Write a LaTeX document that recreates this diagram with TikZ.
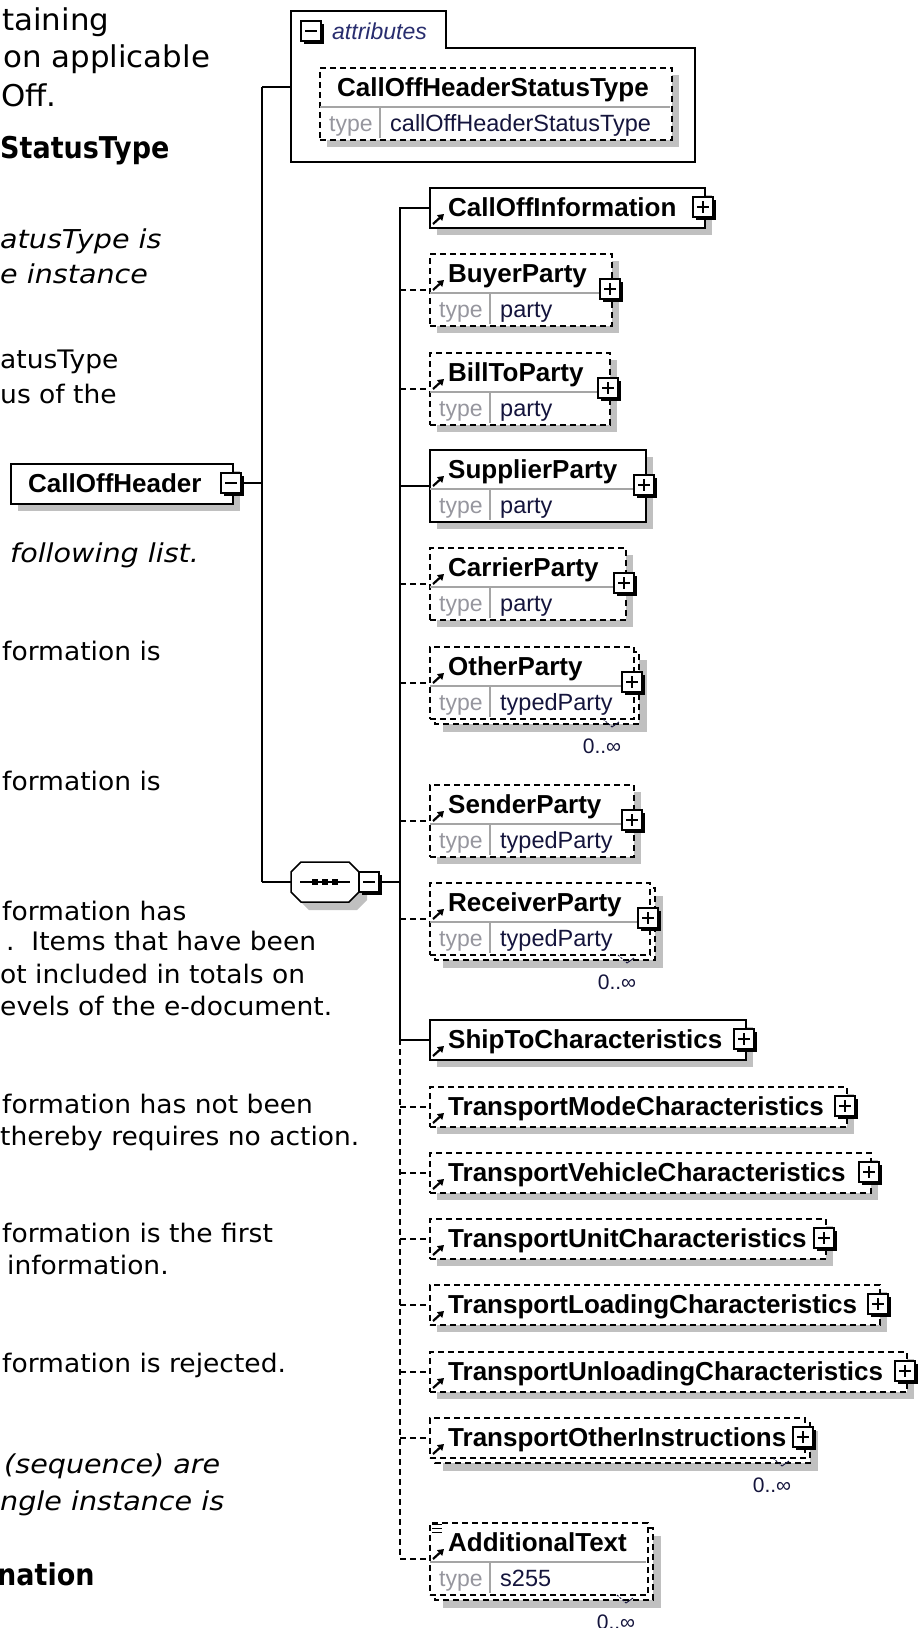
\documentclass[tikz,border=0pt]{standalone}
\usepackage{fontspec}
\setmainfont{Liberation Sans}
\newfontfamily\topfont{DejaVu Sans}[FakeStretch=1.03]
\newfontfamily\bodyfont{DejaVu Sans}[FakeStretch=1.04]
\newfontfamily\itfont{DejaVu Sans}[FakeStretch=1.1]
\newfontfamily\headfont{DejaVu Sans}[FakeStretch=0.9]
\usetikzlibrary{arrows.meta}
\definecolor{shgray}{RGB}{192,192,192}
\definecolor{divgray}{RGB}{165,165,165}
\definecolor{typegray}{RGB}{150,150,158}
\definecolor{navy}{RGB}{20,20,60}
\definecolor{attrblue}{RGB}{40,45,110}
\tikzset{
  conn/.style={line width=1.8pt, black},
  dconn/.style={conn, dash pattern=on 6pt off 4pt},
  sbox/.style={draw, line width=1.8pt, fill=white, inner sep=0pt},
  dbox/.style={sbox, dash pattern=on 6pt off 4pt},
  divl/.style={draw=divgray, line width=1.3pt},
  ename/.style={font=\fontsize{26}{30}\selectfont\bfseries, inner sep=0pt, text=black},
  tlab/.style={font=\fontsize{23}{26}\selectfont, inner sep=0pt, text=typegray},
  tval/.style={font=\fontsize{23.5}{26}\selectfont, inner sep=0pt, text=navy},
  pmbox/.style={draw, fill=white, line width=1.4pt, minimum size=20pt, inner sep=0pt},
  ltext/.style={anchor=base west, inner sep=0pt, text=black},
  topt/.style={ltext, font=\topfont\fontsize{30}{36}\selectfont},
  bodyt/.style={ltext, font=\bodyfont\fontsize{25.5}{30}\selectfont},
  itt/.style={ltext, font=\itfont\itshape\fontsize{26}{30}\selectfont},
  headt/.style={ltext, font=\headfont\bfseries\fontsize{30}{36}\selectfont},
}
% plus / minus boxes
\newcommand\pmsq[3]{%
  \fill (#2-8,#3-8) rectangle (#2+12,#3+12);
  \node[pmbox] (#1) at (#2-1,#3-1) {};}
\newcommand\plusb[3]{\pmsq{#1}{#2}{#3}%
  \draw[line width=1.4pt] (#2-7,#3-1) -- (#2+5,#3-1) (#2-1,#3-7) -- (#2-1,#3+5);}
\newcommand\minusb[3]{\pmsq{#1}{#2}{#3}%
  \draw[line width=1.4pt] (#2-7,#3-1) -- (#2+5,#3-1);}
% reference icon
\newcommand\ricon[1]{\draw[line width=2.2pt, -{Triangle[length=6pt,width=7.5pt]}] (433,#1-3) -- (444,#1-13);}
% shadows and back boxes
\newcommand\elshadow[4]{\fill[shgray] (429+#4,#1+#4) rectangle (#2+#4,#1+#3+#4);}
\newcommand\backbox[3]{\draw[dbox] (435,#1+6) rectangle (#2+6,#1+#3+6);}
% single-row element
\newcommand\elone[5]{%
  \pgfmathsetmacro\elw{#3-429}
  \node[#4, minimum width=\elw pt, minimum height=40pt, anchor=north west] (#1) at (429,#2) {};
  \node[ename, anchor=base west] (#1-n) at (448,#2+29) {#5};
  \ricon{#2+40}
  \plusb{#1-p}{#3}{#2+21}}
% element with type row
\newcommand\eltwo[6]{%
  \pgfmathsetmacro\elw{#3-429}
  \node[#4, minimum width=\elw pt, minimum height=72pt, anchor=north west] (#1) at (429,#2) {};
  \draw[divl] (430,#2+40) -- (#3-1,#2+40);
  \draw[divl] (490,#2+41) -- (490,#2+71);
  \node[ename, anchor=base west] (#1-n) at (448,#2+29) {#5};
  \node[tlab, anchor=base west] (#1-l) at (439,#2+64) {type};
  \node[tval, anchor=base west] (#1-v) at (500,#2+64) {#6};
  \ricon{#2+40}
  \plusb{#1-p}{#3}{#2+37}}
% occurrence label
\newcommand\occurs[3]{%
  \draw[line width=0.9pt, navy, dash pattern=on 2pt off 1.5pt] (#2+1,#3+1) -- (#2+10,#3+9);
  \draw[line width=0.9pt, navy] (#2+10,#3+9) -- (#2+17,#3+4);
  \node[font=\fontsize{21}{24}\selectfont, text=navy, anchor=base, inner sep=0pt] (#1-occ) at (#2,#3+35) {0..∞};}

\begin{document}
\begin{tikzpicture}[x=1pt,y=-1pt]
\useasboundingbox (0,0) rectangle (922,1628);
\clip (0,0) rectangle (922,1628);

% ---------------- left document text ----------------
\node[topt] (t1) at (2,30) {taining};
\node[topt] (t2) at (3,67) {on applicable};
\node[topt] (t3) at (1,106) {Off.};
\node[headt] (t4) at (0,158) {StatusType};
\node[itt] (t5) at (0,248) {atusType is};
\node[itt] (t6) at (0,283) {e instance};
\node[bodyt] (t7) at (0,368) {atusType};
\node[bodyt] (t8) at (0,403) {us of the};
\node[itt] (t9) at (10,562) {following list.};
\node[bodyt] (t10) at (2,660) {formation is};
\node[bodyt] (t11) at (2,790) {formation is};
\node[bodyt] (t12) at (2,920) {formation has};
\node[bodyt] (t13) at (6,950) {.\ \ Items that have been};
\node[bodyt] (t14) at (0,983) {ot included in totals on};
\node[bodyt] (t15) at (0,1015) {evels of the e-document.};
\node[bodyt] (t16) at (2,1113) {formation has not been};
\node[bodyt] (t17) at (0,1145) {thereby requires no action.};
\node[bodyt] (t18) at (2,1242) {formation is the first};
\node[bodyt] (t19) at (7,1274) {information.};
\node[bodyt] (t20) at (2,1372) {formation is rejected.};
\node[itt] (t21) at (4,1473) {(sequence) are};
\node[itt] (t22) at (0,1510) {ngle instance is};
\node[headt] (t23) at (-3,1585) {nation};

% ---------------- connectors ----------------
\coordinate (hbusT) at (262,87);
\coordinate (hbusB) at (262,882);
\coordinate (attrW) at (291,87);
\coordinate (busTop) at (400,207);
\coordinate (busMid) at (400,1039);
\coordinate (busBot) at (400,1558);
\node[minimum width=68pt, minimum height=40pt, inner sep=0pt] (seq) at (325,882) {};

\draw[conn] (hbusT) -- (hbusB);
\draw[conn] (hbusT) -- (attrW);
\draw[conn] (hbusB) -- (seq.west);
\draw[conn] (busTop) -- (busMid);
\draw[dconn] (busMid) -- (busBot);

% ---------------- attributes ----------------
\draw[conn, fill=white] (291,162) -- (291,11) -- (446,11) -- (446,48) -- (695,48) -- (695,162) -- cycle;
\minusb{attrmin}{312}{32}
\node[font=\itshape\fontsize{23}{26}\selectfont, text=attrblue, anchor=base west, inner sep=0pt] (attrlbl) at (332,39) {attributes};
\fill[shgray] (327,75) rectangle (679,147);
\node[dbox, minimum width=352pt, minimum height=72pt, anchor=north west] (attrbox) at (319,67) {};
\draw[divl] (320,107) -- (670,107);
\draw[divl] (380,108) -- (380,138);
\node[ename, anchor=base west] (attrname) at (337,96) {CallOffHeaderStatusType};
\node[tlab, anchor=base west] (attrtl) at (329,131) {type};
\node[tval, anchor=base west] (attrtv) at (390,131) {callOffHeaderStatusType};

% ---------------- CallOffHeader ----------------
\fill[shgray] (18,471) rectangle (240,511);
\node[sbox, minimum width=222pt, minimum height=40pt, anchor=north west] (hdr) at (10,463) {};
\node[ename, anchor=base west] (hdrname) at (28,492) {CallOffHeader};
\minusb{hdrmin}{232}{484}
\draw[conn] (hdrmin.east) -- (hdrmin.east -| hbusT);

% ---------------- sequence ----------------
\fill[shgray] (309,870) -- (357,870) -- (367,880) -- (367,900) -- (357,910) -- (309,910) -- (299,900) -- (299,880) -- cycle;
\draw[line width=1.5pt, fill=white] (301,862) -- (349,862) -- (359,872) -- (359,892) -- (349,902) -- (301,902) -- (291,892) -- (291,872) -- cycle;
\draw[line width=1.4pt] (300,882) -- (350,882);
\fill (312,879) rectangle (318,885);
\fill (322,879) rectangle (328,885);
\fill (332,879) rectangle (338,885);
\minusb{seqmin}{370}{883}
\draw[conn] (seqmin.east) -- (seqmin.east -| busTop);

% ---------------- children ----------------
\elshadow{187}{704}{40}{8}
\elone{coi}{187}{704}{sbox}{CallOffInformation}
\elshadow{253}{611}{72}{8}
\eltwo{buyer}{253}{611}{dbox}{BuyerParty}{party}
\elshadow{352}{609}{72}{8}
\eltwo{billto}{352}{609}{dbox}{BillToParty}{party}
\elshadow{449}{645}{72}{8}
\eltwo{supplier}{449}{645}{sbox}{SupplierParty}{party}
\elshadow{547}{625}{72}{8}
\eltwo{carrier}{547}{625}{dbox}{CarrierParty}{party}
\elshadow{646}{633}{72}{14}
\backbox{646}{633}{72}
\eltwo{other}{646}{633}{dbox}{OtherParty}{typedParty}
\occurs{other}{602}{718}
\elshadow{784}{633}{72}{8}
\eltwo{sender}{784}{633}{dbox}{SenderParty}{typedParty}
\elshadow{882}{649}{72}{14}
\backbox{882}{649}{72}
\eltwo{receiver}{882}{649}{dbox}{ReceiverParty}{typedParty}
\occurs{receiver}{617}{954}
\elshadow{1019}{745}{40}{8}
\elone{shipto}{1019}{745}{sbox}{ShipToCharacteristics}
\elshadow{1086}{846}{40}{8}
\elone{tmode}{1086}{846}{dbox}{TransportModeCharacteristics}
\elshadow{1152}{870}{40}{8}
\elone{tveh}{1152}{870}{dbox}{TransportVehicleCharacteristics}
\elshadow{1218}{825}{40}{8}
\elone{tunit}{1218}{825}{dbox}{TransportUnitCharacteristics}
\elshadow{1284}{879}{40}{8}
\elone{tload}{1284}{879}{dbox}{TransportLoadingCharacteristics}
\elshadow{1351}{906}{40}{8}
\elone{tunload}{1351}{906}{dbox}{TransportUnloadingCharacteristics}
\elshadow{1417}{804}{40}{14}
\backbox{1417}{804}{40}
\elone{tother}{1417}{804}{dbox}{TransportOtherInstructions}
\occurs{tother}{772}{1457}

% AdditionalText
\elshadow{1522}{647}{72}{14}
\backbox{1522}{647}{72}
\node[dbox, minimum width=218pt, minimum height=72pt, anchor=north west] (addtext) at (429,1522) {};
\draw[divl] (430,1562) -- (646,1562);
\draw[divl] (490,1563) -- (490,1593);
\node[ename, anchor=base west] (addtext-n) at (448,1551) {AdditionalText};
\node[tlab, anchor=base west] (addtext-l) at (439,1586) {type};
\node[tval, anchor=base west] (addtext-v) at (500,1586) {s255};
\ricon{1562}
\draw[line width=1pt] (432,1524) -- (442,1524) (432,1528) -- (442,1528) (432,1532) -- (442,1532);
\occurs{addtext}{616}{1594}

% child connectors
\draw[conn]  (coi.west -| busTop) -- (coi.west);
\draw[dconn] (buyer.west -| busTop) -- (buyer.west);
\draw[dconn] (billto.west -| busTop) -- (billto.west);
\draw[conn]  (supplier.west -| busTop) -- (supplier.west);
\draw[dconn] (carrier.west -| busTop) -- (carrier.west);
\draw[dconn] (other.west -| busTop) -- (other.west);
\draw[dconn] (sender.west -| busTop) -- (sender.west);
\draw[dconn] (receiver.west -| busTop) -- (receiver.west);
\draw[conn]  (shipto.west -| busTop) -- (shipto.west);
\draw[dconn] (tmode.west -| busTop) -- (tmode.west);
\draw[dconn] (tveh.west -| busTop) -- (tveh.west);
\draw[dconn] (tunit.west -| busTop) -- (tunit.west);
\draw[dconn] (tload.west -| busTop) -- (tload.west);
\draw[dconn] (tunload.west -| busTop) -- (tunload.west);
\draw[dconn] (tother.west -| busTop) -- (tother.west);
\draw[dconn] (addtext.west -| busTop) -- (addtext.west);
\end{tikzpicture}
\end{document}
